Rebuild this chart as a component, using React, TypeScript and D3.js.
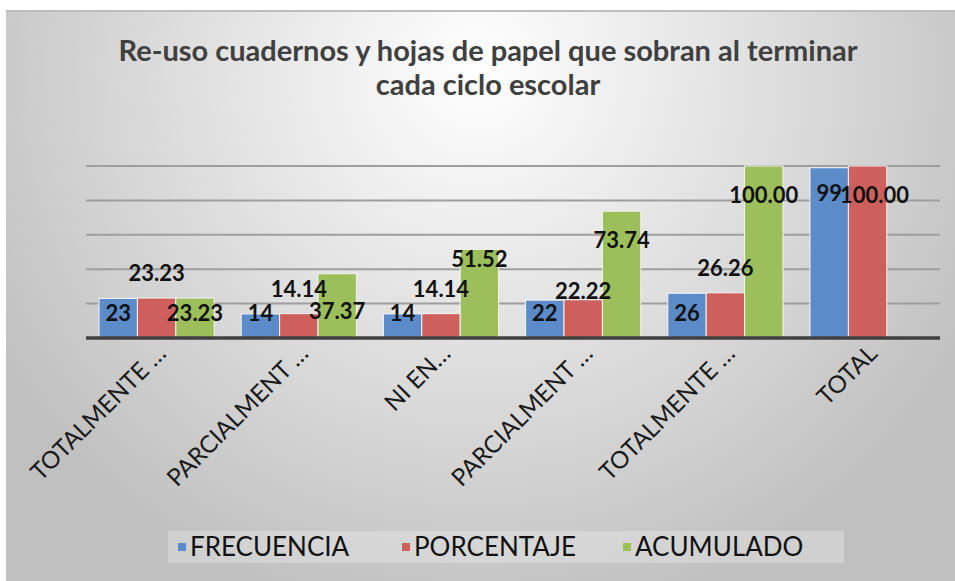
import React from "react";
import * as d3 from "d3";

const categories = ["TOTALMENTE …", "PARCIALMENT …", "NI EN…", "PARCIALMENT …", "TOTALMENTE …", "TOTAL"];
const seriesNames = ["FRECUENCIA", "PORCENTAJE", "ACUMULADO"];
const frecuencia = [23, 14, 14, 22, 26, 99];
const porcentaje = [23.23, 14.14, 14.14, 22.22, 26.26, 100.0];
const acumulado: (number | null)[] = [23.23, 37.37, 51.52, 73.74, 100.0, null];
const yTicks = [0, 20, 40, 60, 80, 100];

const colors = ["#5b8bc9", "#cf5f5d", "#9cbf5b"];
const font = "Lato, sans-serif";

// manual label moves, like the ones done by hand in the spreadsheet
const labelNudge: Record<string, { dx?: number; dy?: number }> = {
  "1-3": { dy: 16 },
  "1-5": { dx: 7 },
  "2-1": { dy: 8 },
  "2-2": { dy: -19 },
};

const W = 955;
const H = 581;

const App = () => {
  const values = [frecuencia, porcentaje, acumulado];

  const x = d3.scaleBand<string>().domain(d3.range(categories.length).map(String)).range([85.5, 938.7]);
  const xs = d3
    .scaleBand<string>()
    .domain(seriesNames)
    .range([13.5, x.bandwidth() - 13.5]);
  const y = d3.scaleLinear().domain([0, 100]).range([338, 166]);
  const y0 = y(0);
  const yTop = y(100);

  const labelY = (s: number, v: number) => {
    if (s === 0) return Math.min(y(v) + 25, y0 - 25);
    if (s === 1) return y(v) - 25 < yTop ? y(v) + 29 : y(v) - 25;
    return Math.min(y(v) + 29, y0 - 25);
  };

  const legendX = [178, 402, 623];

  return (
    <div style={{ position: "absolute", left: 0, top: 0 }}>
      <svg width={W} height={H} style={{ display: "block" }}>
        <defs>
          <radialGradient id="bg" gradientUnits="userSpaceOnUse" cx={478} cy={70} r={560}>
            <stop offset="0" stopColor="#ffffff" />
            <stop offset="1" stopColor="#c0c0c0" />
          </radialGradient>
        </defs>
        <rect x={0} y={0} width={W} height={H} fill="#ffffff" />
        <rect x={6} y={10} width={W - 6} height={H - 10} fill="url(#bg)" />
        <line x1={6} x2={W} y1={11} y2={11} stroke="#bdbdbd" strokeWidth={2} />

        <text x={488} textAnchor="middle" fontFamily={font} fontWeight="bold" fontSize={29} fill="#404040">
          <tspan x={488} y={61}>Re-uso cuadernos y hojas de papel que sobran al terminar</tspan>
          <tspan x={488} y={95}>cada ciclo escolar</tspan>
        </text>

        {yTicks.slice(1).map((t) => (
          <line key={t} x1={86} x2={940} y1={y(t)} y2={y(t)} stroke="#9e9e9e" strokeWidth={2} />
        ))}

        {categories.map((c, i) => (
          <g key={i} transform={`translate(${x(String(i))},0)`}>
            {seriesNames.map((s, si) => {
              const v = values[si][i];
              if (v == null) return null;
              return (
                <rect
                  key={s}
                  x={xs(s)}
                  y={y(v)}
                  width={xs.bandwidth()}
                  height={y0 - y(v)}
                  fill={colors[si]}
                  stroke="#f4f4f4"
                  strokeWidth={1}
                />
              );
            })}
          </g>
        ))}

        <line x1={86} x2={940} y1={y0} y2={y0} stroke="#404040" strokeWidth={3.5} />

        {categories.map((c, i) =>
          seriesNames.map((s, si) => {
            const v = values[si][i];
            if (v == null) return null;
            const n = labelNudge[`${si}-${i}`] || {};
            const cx = (x(String(i)) as number) + (xs(s) as number) + xs.bandwidth() / 2 + (n.dx || 0);
            const cy = labelY(si, v) + (n.dy || 0);
            return (
              <text
                key={`${si}-${i}`}
                x={cx}
                y={cy}
                dy="0.36em"
                textAnchor="middle"
                fontFamily={font}
                fontWeight="bold"
                fontSize={22}
                fill="#111111"
              >
                {si === 0 ? d3.format("d")(v) : d3.format(".2f")(v)}
              </text>
            );
          })
        )}

        {categories.map((c, i) => {
          const cx = (x(String(i)) as number) + x.bandwidth() / 2;
          return (
            <text
              key={i}
              transform={`translate(${cx + 11},${y0 + 17}) rotate(-45)`}
              textAnchor="end"
              fontFamily={font}
              fontSize={24}
              fill="#1a1a1a"
            >
              {c}
            </text>
          );
        })}

        <rect x={168} y={531} width={676} height={32} fill="#ffffff" opacity={0.25} />
        {seriesNames.map((s, si) => (
          <g key={s} transform={`translate(${legendX[si]},0)`}>
            <rect x={0} y={543} width={8} height={8} fill={colors[si]} />
            <text x={12} y={556} fontFamily={font} fontSize={26} fill="#111111">
              {s}
            </text>
          </g>
        ))}
      </svg>
    </div>
  );
};

export default App;
